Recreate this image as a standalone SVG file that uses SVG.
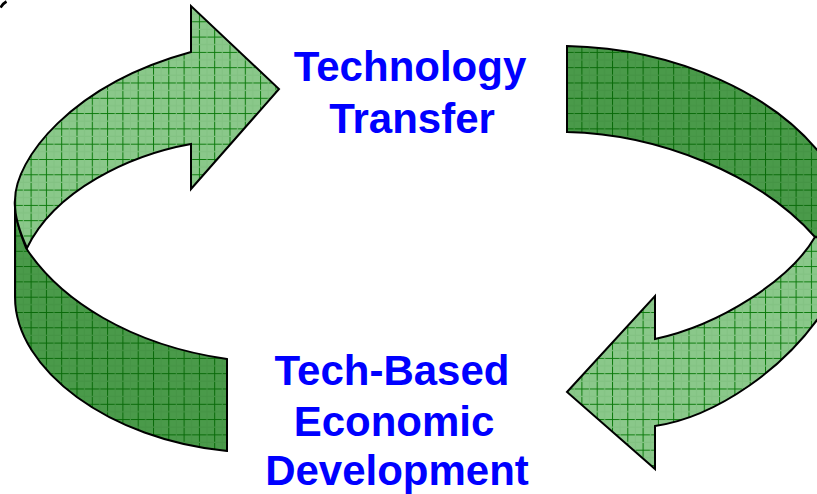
<svg xmlns="http://www.w3.org/2000/svg" width="817" height="494" viewBox="0 0 817 494">
<style>
  .edge { stroke: #000; stroke-width: 2; stroke-linejoin: miter; }
  .lbl { font-family: "Liberation Sans", Arial, sans-serif; font-weight: bold; font-size: 42px; fill: #0000ff; text-anchor: middle; }
</style>
<defs>
  <pattern id="gridLight" patternUnits="userSpaceOnUse" x="0" y="6" width="15.3" height="15.3">
    <rect width="15.3" height="15.3" fill="#8ac88a"/>
    <path d="M0 0.5 H15.3 M0.5 0 V15.3" stroke="#0b7a0b" stroke-width="1" fill="none"/>
    <path d="M0 8 H15.3 M8 0 V15.3" stroke="#82c282" stroke-width="1" fill="none"/>
  </pattern>
  <pattern id="gridDark" patternUnits="userSpaceOnUse" x="0" y="6" width="15.3" height="15.3">
    <rect width="15.3" height="15.3" fill="#4a9a4a"/>
    <path d="M0 0.5 H15.3 M0.5 0 V15.3" stroke="#086a08" stroke-width="1" fill="none"/>
    <path d="M0 8 H15.3 M8 0 V15.3" stroke="#459445" stroke-width="1" fill="none"/>
  </pattern>
</defs>
<g id="stray-mark">
  <path d="M0.5 7.5 Q3 3.5 6.5 1.5" stroke="#000" stroke-width="2.6" fill="none"/>
</g>
<g id="left-band-dark">
  <path class="edge" fill="url(#gridDark)" d="M15 200 L15 297 C15 370 110 440 227 451 L227 359 C130 345 60 300 26 248 C18 228 14 212 15 200 Z"/>
</g>
<g id="right-band-dark">
  <path class="edge" fill="url(#gridDark)" d="M567 46 L567 132 C660 134 760 175 815 237 L850 242 L835 175 C785 92 670 48 567 46 Z"/>
</g>
<g id="arrow-to-tech-transfer">
  <path class="edge" fill="url(#gridLight)" d="M191 52 L191 6 L279 89 L191 189 L191 144 C130 155 55 190 27 248 C18 228 14 212 15 200 C15 160 70 85 191 52 Z"/>
</g>
<g id="arrow-to-economic-dev">
  <path class="edge" fill="url(#gridLight)" d="M655 339 L655 296 L567 392 L655 469 L655 426 C710 418 790 372 835 292 L850 242 L815 237 C790 280 720 325 655 339 Z"/>
</g>
<g id="node-technology-transfer">
  <text class="lbl" x="410" y="81">Technology</text>
  <text class="lbl" x="412" y="133">Transfer</text>
</g>
<g id="node-tech-based-economic-development">
  <text class="lbl" x="392" y="385">Tech-Based</text>
  <text class="lbl" x="394" y="436">Economic</text>
  <text class="lbl" x="397" y="485">Development</text>
</g>
</svg>
